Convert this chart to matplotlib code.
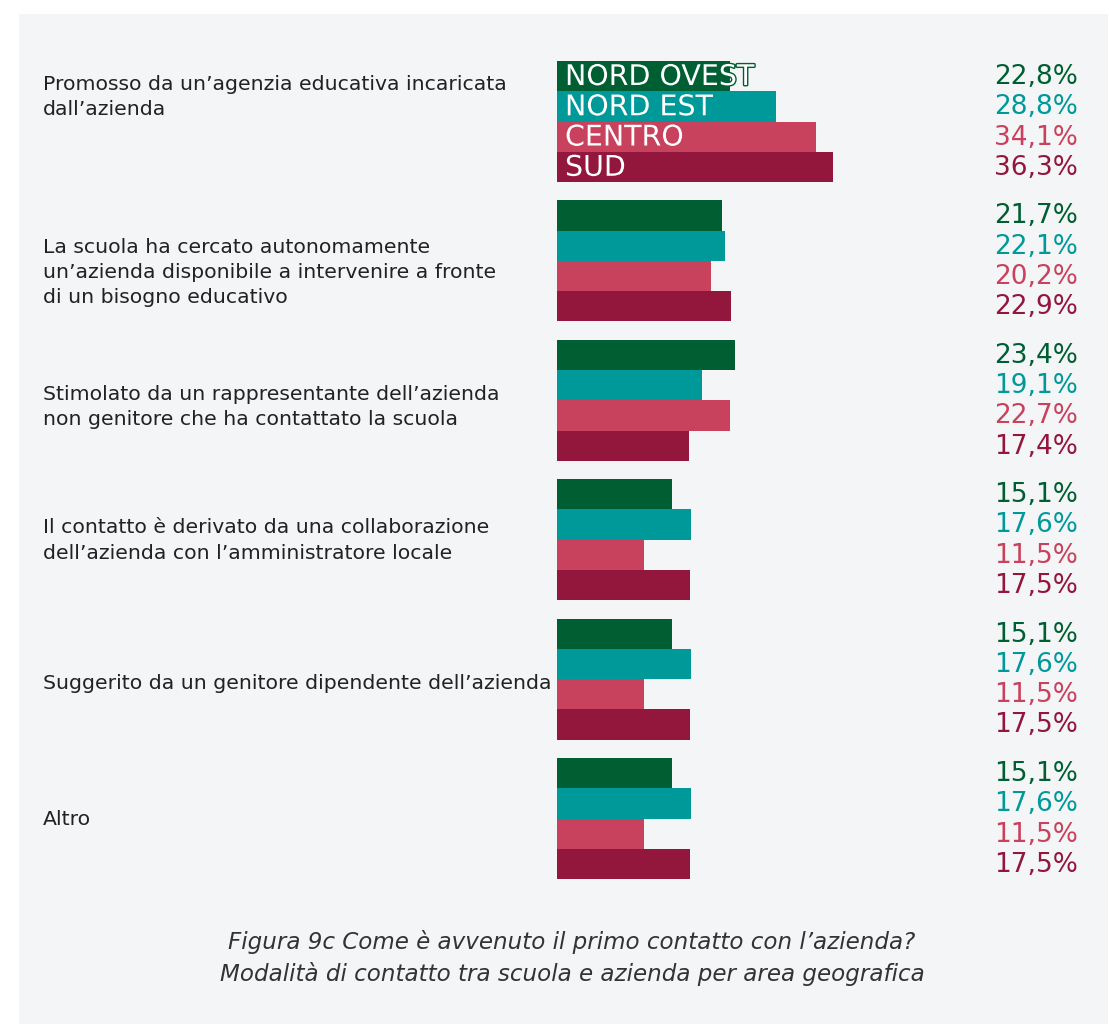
import matplotlib
matplotlib.use("Agg")
import matplotlib.pyplot as plt
import matplotlib.patheffects as pe
from matplotlib.patches import Rectangle

# ---------------- data ----------------
categories = [
    "Promosso da un\u2019agenzia educativa incaricata\ndall\u2019azienda",
    "La scuola ha cercato autonomamente\nun\u2019azienda disponibile a intervenire a fronte\ndi un bisogno educativo",
    "Stimolato da un rappresentante dell\u2019azienda\nnon genitore che ha contattato la scuola",
    "Il contatto \u00e8 derivato da una collaborazione\ndell\u2019azienda con l\u2019amministratore locale",
    "Suggerito da un genitore dipendente dell\u2019azienda",
    "Altro",
]
series = ["NORD OVEST", "NORD EST", "CENTRO", "SUD"]
nord_ovest = [22.8, 21.7, 23.4, 15.1, 15.1, 15.1]
nord_est = [28.8, 22.1, 19.1, 17.6, 17.6, 17.6]
centro = [34.1, 20.2, 22.7, 11.5, 11.5, 11.5]
sud = [36.3, 22.9, 17.4, 17.5, 17.5, 17.5]
values = [nord_ovest, nord_est, centro, sud]
caption = ("Figura 9c Come \u00e8 avvenuto il primo contatto con l\u2019azienda?\n"
           "Modalit\u00e0 di contatto tra scuola e azienda per area geografica")

# ---------------- style ----------------
colors = ["#005F32", "#00999A", "#C9425D", "#93163C"]
panel = "#F4F5F7"
W, H = 1109, 1024
fig = plt.figure(figsize=(W / 100, H / 100), dpi=100)
fig.patch.set_facecolor("white")
fig.patches.append(Rectangle((19 / W, 0), (W - 20) / W, (H - 14) / H,
                             transform=fig.transFigure, facecolor=panel,
                             edgecolor="none", zorder=-10))

px_per_pct = 7.6
bar_px = 30.25
group_px = 139.4
x0_px = 557
g0_px = 121.5

ax = fig.add_axes([x0_px / W, 0, (W - x0_px) / W, 1])
ax.set_xlim(0, (W - x0_px) / px_per_pct)
ax.set_ylim((H - g0_px) / bar_px, -g0_px / bar_px)
ax.axis("off")
ax.patch.set_alpha(0)

gap = group_px / bar_px
offsets = [-1.5, -0.5, 0.5, 1.5]
val_x = (1078 - x0_px) / px_per_pct
lab_x = (43 - x0_px) / px_per_pct

font = "DejaVu Sans"
for s, (name, vals, col) in enumerate(zip(series, values, colors)):
    ys = [g * gap + offsets[s] for g in range(len(categories))]
    ax.barh(ys, vals, height=1.0, color=col, edgecolor="none", zorder=2)
    for y, v in zip(ys, vals):
        ax.text(val_x, y + 0.03, f"{v:.1f}%".replace(".", ","), ha="right", va="center",
                color=col, fontsize=19, family=font, zorder=3)
    # series label inside the first group's bars
    ax.text((565 - x0_px) / px_per_pct, ys[0] + 0.03, name, ha="left", va="center",
            color="white", fontsize=20.5, family=font, zorder=4,
            path_effects=[pe.withStroke(linewidth=2.0, foreground=col)])

label_shift = [-0.8, 0.38, 0.23, 0.03, 0.15, 0.03]
for g, cat in enumerate(categories):
    ax.text(lab_x, g * gap + label_shift[g], cat, ha="left", va="center",
            color="#222222", fontsize=14.7, family=font, linespacing=1.42)

fig.text(572 / W, 1 - 958 / H, caption, ha="center", va="center",
         fontsize=16.6, style="italic", family=font, color="#333333",
         linespacing=1.4)

fig.savefig("out.png", dpi=100, facecolor=fig.get_facecolor())
